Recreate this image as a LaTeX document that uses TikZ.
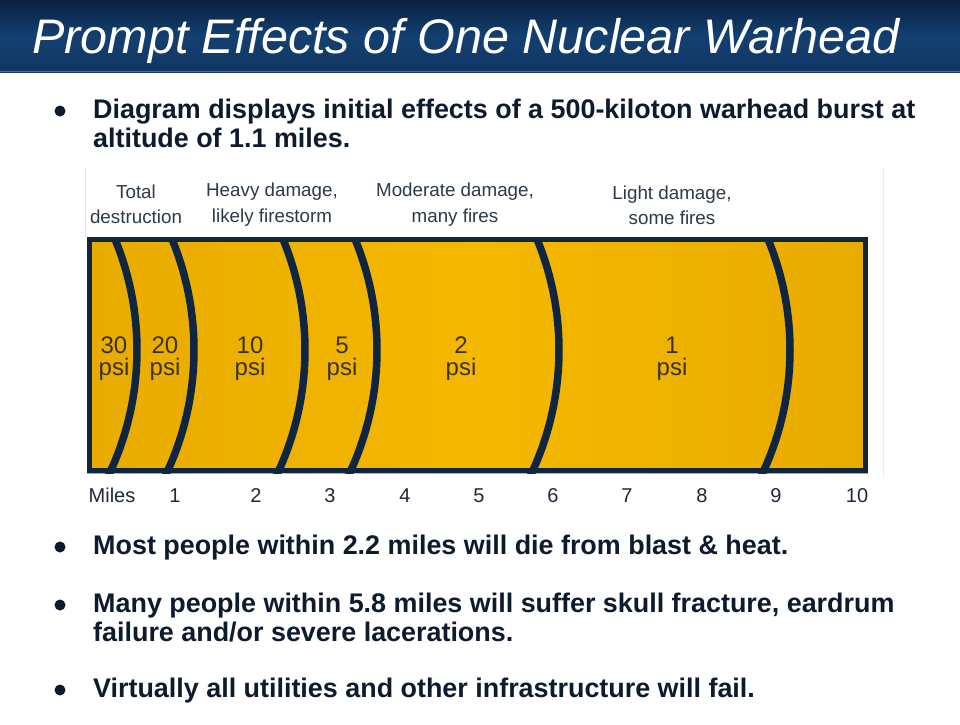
\documentclass[tikz,border=0pt]{standalone}
\usepackage{fontspec}
\setmainfont{Liberation Sans}
\definecolor{titletop}{HTML}{0A2040}
\definecolor{titlemid}{HTML}{134070}
\definecolor{titlebot}{HTML}{0F3663}
\definecolor{gold}{HTML}{F4B800}
\definecolor{goldD}{HTML}{E8AB00}
\definecolor{navy}{HTML}{10253F}
\definecolor{bultext}{HTML}{0E1A2E}
\definecolor{hdrtext}{HTML}{2D3A4A}
\definecolor{psitext}{HTML}{3A3322}
\definecolor{axtext}{HTML}{1E2A3A}
\tikzset{
  bul/.style={anchor=base west, inner sep=0pt, text=bultext, font=\fontsize{26.9}{30}\selectfont\bfseries},
  bdot/.style={fill=bultext},
  hdr/.style={anchor=base, inner sep=0pt, text=hdrtext, font=\fontsize{18.8}{22}\selectfont},
  psil/.style={anchor=base, inner sep=0pt, align=center, text=psitext, font=\fontsize{24}{22}\selectfont},
  axl/.style={anchor=base, inner sep=0pt, text=axtext, font=\fontsize{20}{24}\selectfont},
  arcline/.style={draw=navy, line width=7.5pt},
}
\begin{document}
\begin{tikzpicture}[x=1pt,y=-1pt]
\useasboundingbox (0,0) rectangle (960,724);
\fill[white] (0,0) rectangle (960,724);
% title bar
\shade[top color=titletop, bottom color=titlebot, middle color=titlemid] (0,0) rectangle (960,72);
\draw[color=titlemid!75!white, line width=1.2pt] (0,71.2) -- (960,71.2);
\node[anchor=base west, inner sep=0pt, text=white, font=\fontsize{48.5}{58}\selectfont\itshape] (title) at (32,53) {Prompt Effects of One Nuclear Warhead};
% first bullet
\fill[bdot] (60,111) circle (5.5);
\node[bul] (b1a) at (93,118) {Diagram displays initial effects of a 500-kiloton warhead burst at};
\node[bul] (b1b) at (93,147) {altitude of 1.1 miles.};
% faint frame around diagram
\draw[black!10, line width=1pt] (85,168) -- (85,237);
\draw[black!8, line width=1pt] (883,168) -- (883,478);
% header labels
\node[hdr] (h1a) at (136,198) {Total};
\node[hdr] (h1b) at (136,223) {destruction};
\node[hdr] (h2a) at (272,196) {Heavy damage,};
\node[hdr] (h2b) at (272,222) {likely firestorm};
\node[hdr] (h3a) at (455,196) {Moderate damage,};
\node[hdr] (h3b) at (455,222) {many fires};
\node[hdr] (h4a) at (672,199) {Light damage,};
\node[hdr] (h4b) at (672,224) {some fires};
% diagram
\begin{scope}
\clip (87,237) rectangle (868,473);
\shade[left color=goldD, right color=goldD, middle color=gold] (87,237) rectangle (868,473);
\foreach \ax in {137,194,305,377,559,790}{
  \draw[arcline] (\ax-290,350) ++(-35:290) arc[start angle=-35, end angle=35, radius=290];
}
\end{scope}
\draw[navy, line width=5pt] (89.5,239.5) rectangle (865.5,470.5);
% psi labels
\node[psil] (p30) at (114,375) {30\\psi};
\node[psil] (p20) at (165,375) {20\\psi};
\node[psil] (p10) at (250,375) {10\\psi};
\node[psil] (p5) at (342,375) {5\\psi};
\node[psil] (p2) at (461,375) {2\\psi};
\node[psil] (p1) at (672,375) {1\\psi};
% axis labels
\node[axl] (mi) at (112,502) {Miles};
\foreach \n/\xx in {1/175,2/256,3/330,4/405,5/479,6/553,7/627,8/702,9/776,10/857}{
  \node[axl] (ax\n) at (\xx,502) {\n};
}
% bottom bullets
\fill[bdot] (60,547) circle (5.5);
\node[bul] (b2) at (93,554) {Most people within 2.2 miles will die from blast \& heat.};
\fill[bdot] (60,605) circle (5.5);
\node[bul] (b3a) at (93,612) {Many people within 5.8 miles will suffer skull fracture, eardrum};
\node[bul] (b3b) at (93,641) {failure and/or severe lacerations.};
\fill[bdot] (60,690) circle (5.5);
\node[bul] (b4) at (93,697) {Virtually all utilities and other infrastructure will fail.};
\end{tikzpicture}
\end{document}
